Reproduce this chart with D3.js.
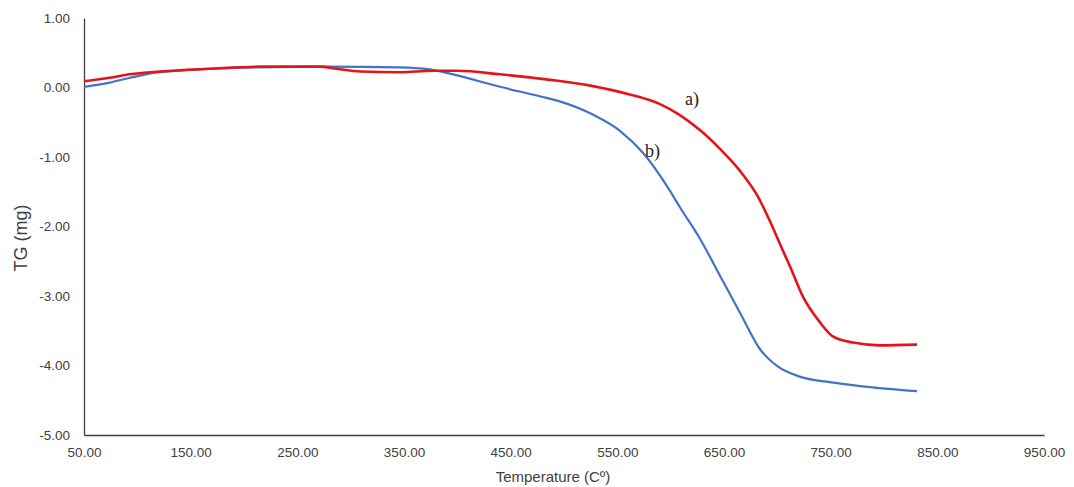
<!DOCTYPE html>
<html><head><meta charset="utf-8">
<script src="https://cdn.jsdelivr.net/npm/d3@7"></script>
<style>body{margin:0;background:#fff}svg{display:block}</style>
</head><body>
<svg id="c" width="1074" height="487"></svg>
<script>
const xTicks = [50, 150, 250, 350, 450, 550, 650, 750, 850, 950];
const yTicks = [1, 0, -1, -2, -3, -4, -5];
// curve a) (red)
const tempA = [50, 74, 93, 121, 168, 215, 271, 287, 309, 346, 377, 400, 440, 487, 527, 559, 590, 609, 628, 646, 665, 681, 693, 703, 712, 724, 740, 752, 771, 796, 831];
const tgA   = [0.09, 0.14, 0.19, 0.23, 0.27, 0.30, 0.30, 0.27, 0.23, 0.22, 0.24, 0.24, 0.19, 0.11, 0.02, -0.09, -0.24, -0.40, -0.62, -0.88, -1.20, -1.55, -1.92, -2.27, -2.58, -3.01, -3.38, -3.58, -3.67, -3.71, -3.70];
// curve b) (blue)
const tempB = [50, 74, 93, 121, 215, 278, 346, 374, 393, 440, 478, 496, 527, 553, 574, 597, 609, 628, 646, 665, 684, 700, 721, 749, 780, 831];
const tgB   = [0.01, 0.07, 0.14, 0.22, 0.29, 0.30, 0.29, 0.26, 0.20, 0.01, -0.13, -0.20, -0.39, -0.63, -0.94, -1.43, -1.73, -2.19, -2.70, -3.24, -3.77, -4.01, -4.16, -4.24, -4.30, -4.37];

const svg = d3.select("#c");
const x = d3.scaleLinear().domain([50, 950]).range([84, 1044]);
const y = d3.scaleLinear().domain([-5, 1]).range([435, 18]);
const font = "'Liberation Sans', Arial, sans-serif";
const fmt = d => d3.format(".2f")(d).replace("\u2212", "-");

// axes
const gx = svg.append("g").attr("transform", `translate(0,${y(-5)})`)
  .call(d3.axisBottom(x).tickValues(xTicks).tickSize(0).tickPadding(12).tickFormat(fmt));
gx.select(".domain").attr("stroke", "#404040").attr("stroke-width", 1.3);
gx.selectAll("text").attr("font-family", font).attr("font-size", 13.5).attr("fill", "#404040");

const gy = svg.append("g").attr("transform", `translate(${x(50)},0)`)
  .call(d3.axisLeft(y).tickValues(yTicks).tickSize(0).tickPadding(14).tickFormat(fmt));
gy.select(".domain").attr("stroke", "#404040").attr("stroke-width", 1.3);
gy.selectAll("text").attr("font-family", font).attr("font-size", 13.5).attr("fill", "#404040");

// lines
const line = d3.line().x(d => x(d[0])).y(d => y(d[1])).curve(d3.curveMonotoneX);
svg.append("path").datum(tempB.map((t, i) => [t, tgB[i]]))
  .attr("d", line).attr("fill", "none").attr("stroke", "#4472C4").attr("stroke-width", 2.2);
svg.append("path").datum(tempA.map((t, i) => [t, tgA[i]]))
  .attr("d", line).attr("fill", "none").attr("stroke", "#E31519").attr("stroke-width", 2.6);

// curve labels
svg.append("text").attr("x", 685).attr("y", 105).text("a)")
  .attr("font-family", "'Liberation Serif', 'Times New Roman', serif").attr("font-size", 18).attr("fill", "#222");
svg.append("text").attr("x", 645).attr("y", 157).text("b)")
  .attr("font-family", "'Liberation Serif', 'Times New Roman', serif").attr("font-size", 18).attr("fill", "#222");

// axis titles
svg.append("text").attr("x", 553).attr("y", 482).attr("text-anchor", "middle")
  .attr("font-family", font).attr("font-size", 15).attr("fill", "#404040").text("Temperature (Cº)");
svg.append("text").attr("transform", "translate(27,238) rotate(-90)").attr("text-anchor", "middle")
  .attr("font-family", font).attr("font-size", 18).attr("fill", "#404040").text("TG (mg)");
</script>
</body></html>
